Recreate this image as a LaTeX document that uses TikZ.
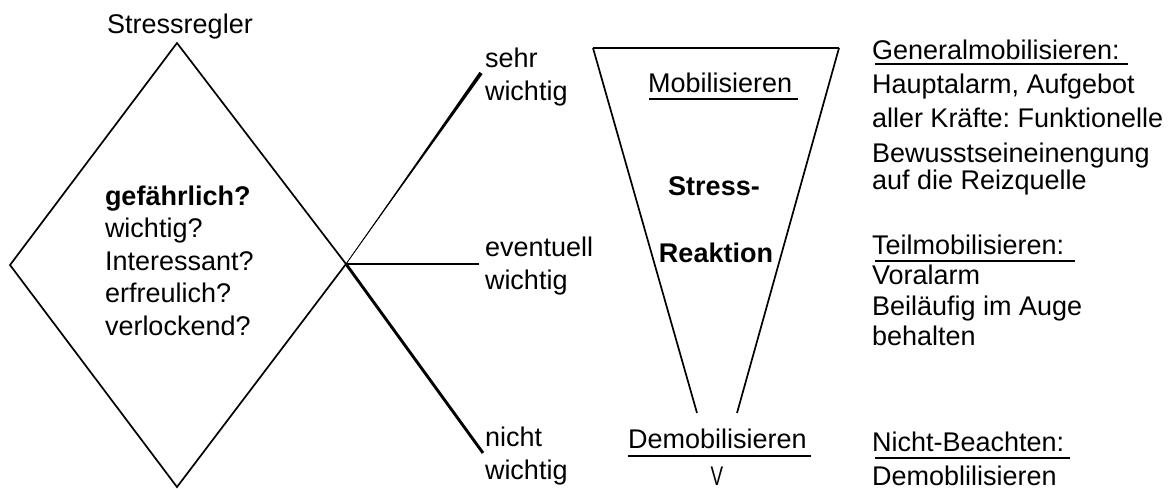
\documentclass[tikz,border=0pt]{standalone}
\usepackage{fontspec}
\setmainfont{Liberation Sans}
\usetikzlibrary{calc}
\frenchspacing
\begin{document}
\begin{tikzpicture}[x=1pt,y=-1pt,
  lbl/.style={inner sep=0pt, outer sep=0pt, anchor=base west,
              font=\fontsize{27}{32.5}\selectfont},
  ctr/.style={lbl, anchor=base},
  boldlbl/.style={ctr, font=\fontsize{27}{32.5}\selectfont\bfseries},
  multi/.style={lbl, align=left},
  outline/.style={line width=1.7pt, line join=miter},
  branch/.style={line width=2.9pt},
  uline/.style={line width=2.3pt}]
\useasboundingbox (0,0) rectangle (1174,488);

% decision diamond
\coordinate (dtop)   at (177,43);
\coordinate (dright) at (346,264);
\coordinate (dbot)   at (177,487);
\coordinate (dleft)  at (10,265);
\draw[outline] (dtop) -- (dright) -- (dbot) -- (dleft) -- cycle;

\node[ctr] (title) at (180,33) {Stressregler};
% multi-line nodes sit on the baseline of their last line
\node[multi] (questions) at (105,335)
  {\textbf{gefährlich?}\\wichtig?\\Interessant?\\erfreulich?\\verlockend?};

% branches out of the right corner
\coordinate (esehr)  at (481,73);
\coordinate (eevent) at (479,264);
\coordinate (enicht) at (483,453);
\fill (dright) -- ($(esehr)!1.9pt!90:(dright)$) -- ($(esehr)!1.9pt!-90:(dright)$) -- cycle;
\draw[line width=0.9pt] (dright) -- (esehr);
\draw[branch] (dright) -- (eevent);
\draw[branch] (dright) -- (enicht);

\node[multi] (sehr)   at (485,100) {sehr\\wichtig};
\node[multi] (event)  at (485,289) {eventuell\\wichtig};
\node[multi] (nicht)  at (485,479) {nicht\\wichtig};

% stress funnel
\coordinate (ftl) at (593,48);
\coordinate (ftr) at (839,48);
\coordinate (fbl) at (697,413);
\coordinate (fbr) at (737,413);
\draw[line width=2.5pt] (ftl) -- (ftr);
\draw[outline] (ftl) -- (fbl);
\draw[outline] (ftr) -- (fbr);

\node[lbl] (mob) at (648,92) {Mobilisieren};
\draw[uline] (649,99) -- (798,99);
\node[boldlbl] (stress) at (714,195) {Stress-};
\node[boldlbl] (reakt)  at (716,262) {Reaktion};
\node[lbl] (demob) at (628,448) {Demobilisieren};
\draw[uline] (628,456) -- (811,456);
\node[ctr, xscale=0.7] (vmark) at (717,485) {V};

% descriptions on the right
\node[lbl] (gm)  at (872,59)  {Generalmobilisieren:};
\draw[uline] (875,64) -- (1128,64);
\node[lbl] (gm1) at (872,93)  {Hauptalarm, Aufgebot};
\node[lbl] (gm2) at (872,127) {aller Kräfte: Funktionelle};
\node[lbl] (gm3) at (872,162) {Bewusstseineinengung};
\node[lbl] (gm4) at (872,189) {auf die Reizquelle};

\node[lbl] (tm)  at (872,254) {Teilmobilisieren:};
\draw[uline] (875,261) -- (1075,261);
\node[lbl] (tm1) at (872,284) {Voralarm};
\node[lbl] (tm2) at (872,315) {Beiläufig im Auge};
\node[lbl] (tm3) at (872,345) {behalten};

\node[lbl] (nb)  at (872,451) {Nicht-Beachten:};
\draw[uline] (875,458) -- (1070,458);
\node[lbl] (nb1) at (872,485) {Demoblilisieren};
\end{tikzpicture}
\end{document}
